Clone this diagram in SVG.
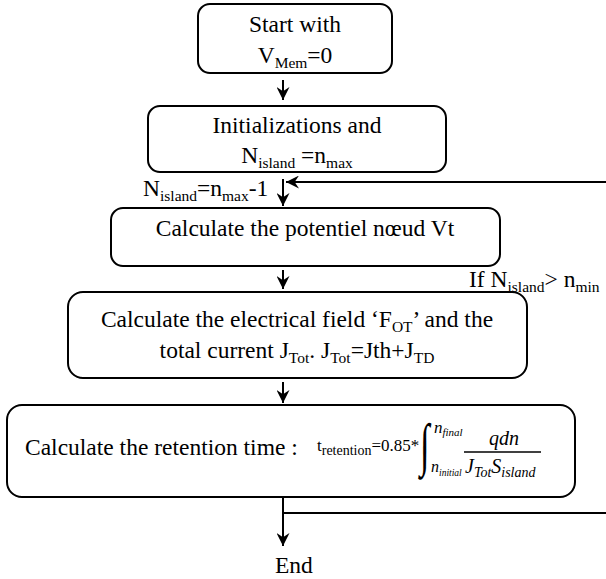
<svg xmlns="http://www.w3.org/2000/svg" width="606" height="579" viewBox="0 0 606 579">
<style>
.box{fill:#fff;stroke:#000;stroke-width:2}
.t{font-family:"Liberation Serif","Times New Roman",serif;font-size:23.5px;fill:#000}
.s{font-size:15.5px}
.i{font-style:italic}
.c{text-anchor:middle}
.ln{fill:none;stroke:#000;stroke-width:2}
</style>
<defs>
<marker id="ah" viewBox="0 0 12 12" refX="12" refY="6" markerWidth="13" markerHeight="13" markerUnits="userSpaceOnUse" orient="auto">
<path d="M0,0 L12,6 L0,12 L4,6 z" fill="#000"/>
</marker>
</defs>
<rect width="606" height="579" fill="#fff"/>
<g id="connectors">
<path class="ln" d="M283,80 V100" marker-end="url(#ah)"/>
<path class="ln" d="M606,182 H286" marker-end="url(#ah)"/>
<path class="ln" d="M283,179 V206" marker-end="url(#ah)"/>
<path class="ln" d="M283,270 V289" marker-end="url(#ah)"/>
<path class="ln" d="M283,382 V403" marker-end="url(#ah)"/>
<path class="ln" d="M283,497 V546" marker-end="url(#ah)"/>
<path class="ln" d="M283,513 H606"/>
<text class="t" x="143" y="196">N<tspan class="s" dy="5">island</tspan><tspan dy="-5">=n</tspan><tspan class="s" dy="5">max</tspan><tspan dy="-5">-1</tspan></text>
<text class="t" x="469" y="287">If N<tspan class="s" dy="5">island</tspan><tspan dy="-5">&gt; n</tspan><tspan class="s" dy="5">min</tspan></text>
</g>
<g id="start">
<rect class="box" x="198" y="4" width="194" height="69" rx="12"/>
<text class="t c" x="295" y="32">Start with</text>
<text class="t c" x="295" y="63">V<tspan class="s" dy="5">Mem</tspan><tspan dy="-5">=0</tspan></text>
</g>
<g id="init">
<rect class="box" x="148" y="106" width="298" height="66" rx="12"/>
<text class="t c" x="297" y="133">Initializations and</text>
<text class="t c" x="297" y="163">N<tspan class="s" dy="5">island</tspan><tspan dy="-5"> =n</tspan><tspan class="s" dy="5">max</tspan></text>
</g>
<g id="potential">
<rect class="box" x="111" y="208" width="389" height="58" rx="12"/>
<text class="t c" x="305" y="236">Calculate the potentiel nœud Vt</text>
</g>
<g id="field">
<rect class="box" x="68" y="292" width="459" height="86" rx="15"/>
<text class="t c" x="297" y="327">Calculate the electrical field ‘F<tspan class="s" dy="5">OT</tspan><tspan dy="-5">’ and the</tspan></text>
<text class="t c" x="297" y="358">total current J<tspan class="s" dy="5">Tot</tspan><tspan dy="-5">. J</tspan><tspan class="s" dy="5">Tot</tspan><tspan dy="-5">=Jth+J</tspan><tspan class="s" dy="5">TD</tspan></text>
</g>
<g id="retention">
<rect class="box" x="7" y="405" width="568" height="92" rx="15"/>
<text class="t" x="25" y="455">Calculate the retention time :</text>
<text class="t" x="317" y="451" style="font-size:17px">t<tspan style="font-size:14px" dy="4">retention</tspan><tspan dy="-4">=0.85*</tspan></text>
<text class="t" transform="translate(420,464) scale(0.6,1)" style="font-size:58px">∫</text>
<text class="t i" x="434" y="433" style="font-size:17px">n<tspan style="font-size:11px" dy="3">final</tspan></text>
<text class="t i" x="431" y="472" style="font-size:16px">n<tspan style="font-size:9.5px" dy="4">initial</tspan></text>
<text class="t i c" x="504" y="445" style="font-size:20px">qdn</text>
<path d="M464,452 H541" stroke="#000" stroke-width="1.3"/>
<text class="t i" x="465" y="473" style="font-size:20px">J<tspan style="font-size:14px" dy="4">Tot</tspan><tspan dy="-4">S</tspan><tspan style="font-size:14px" dy="4">island</tspan></text>
</g>
<g id="end">
<text class="t" x="275" y="573">End</text>
</g>
</svg>
